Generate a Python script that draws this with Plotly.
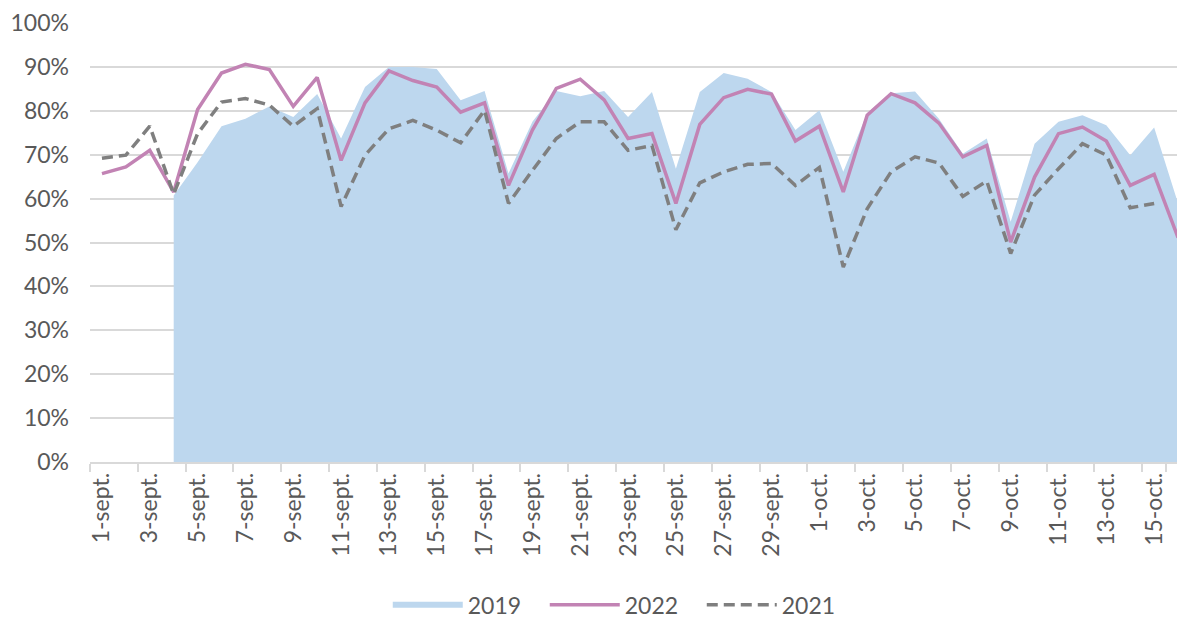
import plotly.graph_objects as go

days_sept = [f"{d}-sept." for d in range(1, 31)]
days_oct = [f"{d}-oct." for d in range(1, 17)]
categories = days_sept + days_oct

y2019 = [None, None, None, 60.7, 68.3, 76.5, 78.2, 81.0, 78.6, 83.8,
         73.7, 85.4, 90.0, 90.0, 89.5, 82.4, 84.5, 65.7, 77.5, 84.5,
         83.3, 84.5, 78.6, 84.3, 66.8, 84.3, 88.6, 87.3, 84.3, 75.6,
         80.1, 66.1, 79.5, 84.0, 84.4, 78.2, 70.2, 73.7, 54.7, 72.5,
         77.5, 79.0, 76.7, 69.9, 76.2, 58.9]

y2022 = [65.7, 67.2, 71.0, 61.5, 80.3, 88.6, 90.6, 89.4, 81.0, 87.6,
         68.7, 81.8, 89.1, 86.9, 85.4, 79.7, 81.8, 63.0, 75.6, 85.1,
         87.2, 82.5, 73.7, 74.8, 58.9, 76.9, 83.0, 84.9, 83.8, 73.1,
         76.5, 61.5, 79.0, 83.9, 81.8, 77.2, 69.5, 72.1, 50.1, 64.9,
         74.8, 76.3, 73.1, 63.0, 65.5, 51.1]

y2021 = [69.2, 69.9, 76.5, 61.0, 74.8, 82.0, 82.8, 81.3, 76.5, 80.5,
         58.2, 69.9, 75.9, 77.8, 75.6, 72.7, 80.1, 58.9, 66.4, 73.7,
         77.5, 77.5, 71.0, 72.1, 52.9, 63.6, 66.1, 67.8, 68.0, 63.0,
         67.1, 44.4, 57.7, 66.1, 69.5, 68.1, 60.5, 64.0, 47.5, 60.8,
         66.8, 72.5, 69.9, 57.9, 58.9, None]

y_ticks = list(range(0, 101, 10))
y_ticktext = [f"{v}%" for v in y_ticks]

FONT = "Lato"
TXT = "#595959"

fig = go.Figure()
fig.add_trace(go.Scatter(
    x=categories, y=y2019, name="2019", mode="none",
    fill="tozeroy", fillcolor="#BDD7EE", hoverinfo="skip",
))
fig.add_trace(go.Scatter(
    x=categories, y=y2022, name="2022", mode="lines",
    line=dict(color="#C283B4", width=3.5),
))
fig.add_trace(go.Scatter(
    x=categories, y=y2021, name="2021", mode="lines",
    line=dict(color="#7F7F7F", width=3.5, dash="11px,6px"),
))

# page body has an 8px margin: figure is sized so it ends at the window edge
fig.update_layout(
    width=1177, height=609,
    margin=dict(l=82, r=0, t=15, b=155),
    paper_bgcolor="white", plot_bgcolor="white",
    font=dict(family=FONT, size=23, color=TXT),
    showlegend=True,
    legend=dict(orientation="h", x=0.487, xanchor="center",
                y=0.02, yref="container", yanchor="middle",
                font=dict(family=FONT, size=23, color=TXT),
                itemwidth=70, entrywidth=72, traceorder="normal"),
    xaxis=dict(
        type="category", categoryorder="array", categoryarray=categories,
        range=[-0.5, 45.29],
        tickmode="array", tickvals=categories[::2], ticktext=categories[::2],
        tickson="boundaries", ticks="outside", ticklen=8,
        tickcolor="#D9D9D9", tickwidth=1.5,
        tickangle=-90, showgrid=False,
        showline=True, linecolor="#D9D9D9", linewidth=1.5,
        tickfont=dict(family=FONT, size=23, color=TXT),
    ),
    yaxis=dict(
        range=[0, 100], tickmode="array", tickvals=y_ticks, ticktext=y_ticktext,
        showgrid=True, gridcolor="#D9D9D9", gridwidth=1.5,
        zeroline=False, showline=False, ticks="",
        ticklabelstandoff=20,
        tickfont=dict(family=FONT, size=23, color=TXT),
    ),
)

fig.write_html("out.html")
